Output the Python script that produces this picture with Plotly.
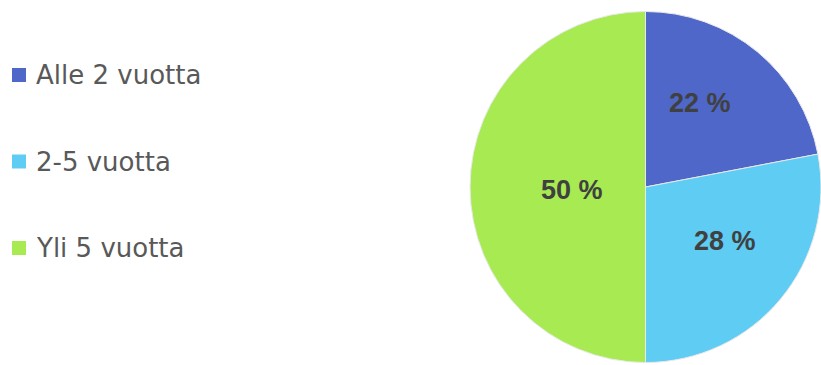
import math
import plotly.graph_objects as go

# Share of respondents by length of experience
labels = ["Alle 2 vuotta", "2-5 vuotta", "Yli 5 vuotta"]
values = [22, 28, 50]
colors = ["#4E67C8", "#5ECCF3", "#A7EA52"]

W, H = 821, 365
cx, cy, r = 645.5, 187, 175.5  # pie centre and radius in pixels

fig = go.Figure(
    go.Pie(
        labels=labels,
        values=values,
        sort=False,
        direction="clockwise",
        rotation=0,
        marker=dict(colors=colors, line=dict(color="#E8E8E8", width=1)),
        textinfo="none",
        showlegend=False,
        hoverinfo="label+percent",
        domain=dict(x=[(cx - r) / W, (cx + r) / W], y=[1 - (cy + r) / H, 1 - (cy - r) / H]),
    )
)

# Value labels placed along each slice's mid-angle (clockwise from 12 o'clock)
label_radius = [0.57, 0.55, 0.42]   # fraction of pie radius
label_turn = [-6.5, -5.5, -2.0]     # small angular nudge, degrees
total = sum(values)
start = 0.0
for v, rf, turn in zip(values, label_radius, label_turn):
    sweep = 360.0 * v / total
    ang = math.radians(start + sweep / 2 + turn)
    start += sweep
    px = cx + rf * r * math.sin(ang)
    py = cy - rf * r * math.cos(ang)
    fig.add_annotation(
        x=px / W, y=1 - py / H, xref="paper", yref="paper",
        xanchor="center", yanchor="middle", showarrow=False,
        text=f"{v} %",
        font=dict(family="Liberation Sans", size=27, color="#404040", weight="bold"),
    )

# Legend: coloured square + label for each slice
legend_x, legend_y0, legend_step, sq = 19, 75, 86.5, 14
for i, (lab, col) in enumerate(zip(labels, colors)):
    yc = legend_y0 + i * legend_step
    fig.add_shape(
        type="rect", xref="paper", yref="paper",
        x0=(legend_x - sq / 2) / W, x1=(legend_x + sq / 2) / W,
        y0=1 - (yc + sq / 2) / H, y1=1 - (yc - sq / 2) / H,
        fillcolor=col, line=dict(width=0),
    )
    fig.add_annotation(
        x=34 / W, y=1 - yc / H, xref="paper", yref="paper",
        xanchor="left", yanchor="middle", showarrow=False,
        text=lab, font=dict(family="DejaVu Sans", size=26, color="#595959"),
    )

fig.update_layout(
    width=W, height=H,
    margin=dict(l=0, r=0, t=0, b=0, pad=0),
    paper_bgcolor="white", plot_bgcolor="white",
)

fig.write_html("out.html")
